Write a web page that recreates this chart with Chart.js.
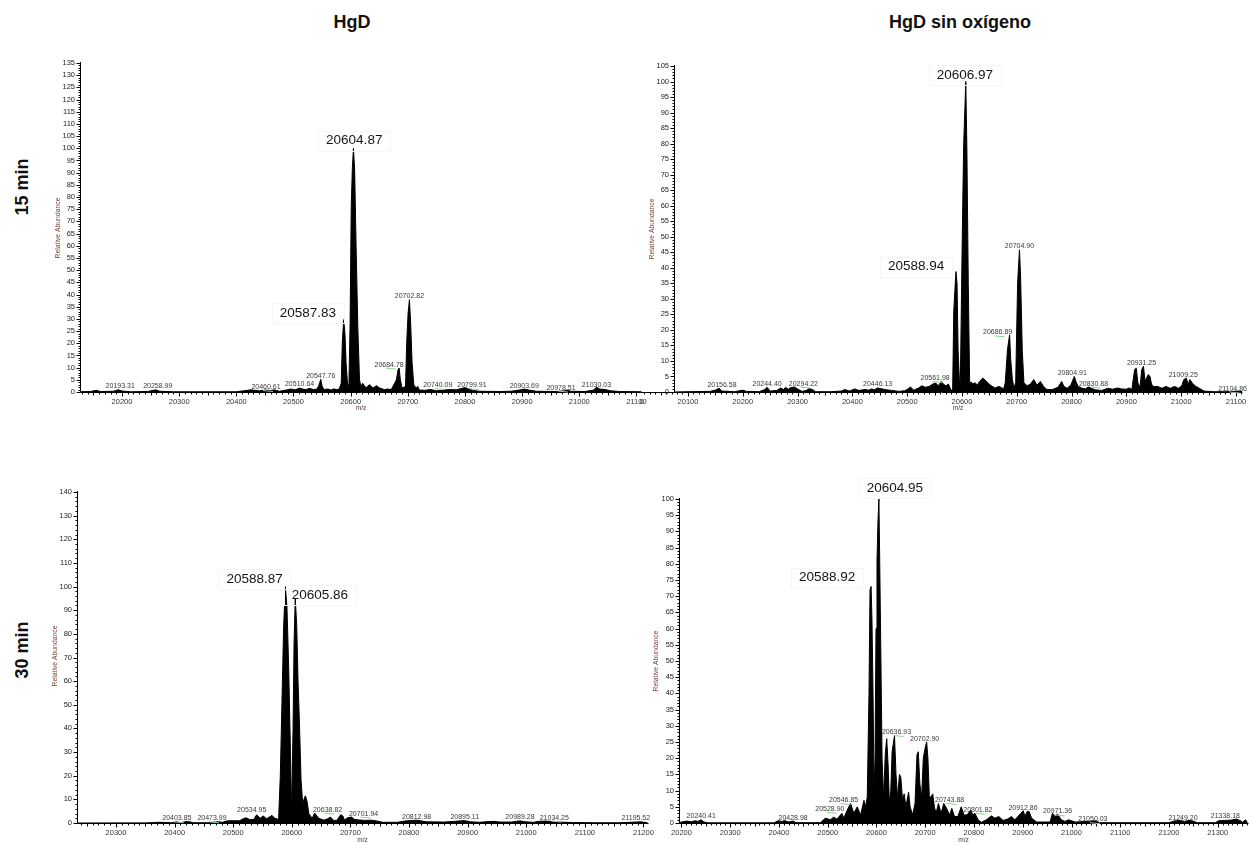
<!DOCTYPE html>
<html>
<head>
<meta charset="utf-8">
<script src="https://cdn.jsdelivr.net/npm/chart.js@4.4.1/dist/chart.umd.min.js"></script>
<style>
  html, body { margin: 0; padding: 0; background: #fff; }
  #wrap { position: relative; width: 1252px; height: 845px; overflow: hidden;
          font-family: "Liberation Sans", Arial, sans-serif; }
  canvas.panel { position: absolute; left: 0; top: 0; }
  .title { position: absolute; font-weight: bold; font-size: 18px; color: #111;
           white-space: nowrap; transform: translate(-50%, -50%); }
  .row { position: absolute; font-weight: bold; font-size: 18px; color: #111;
         white-space: nowrap; transform: translate(-50%, -50%) rotate(-90deg); }
</style>
</head>
<body>
<div id="wrap">
  <div class="title" style="left:352px;top:22px">HgD</div>
  <div class="title" style="left:960px;top:22px">HgD sin oxígeno</div>
  <div class="row" style="left:22px;top:187px">15 min</div>
  <div class="row" style="left:22px;top:650px">30 min</div>
  <canvas id="c1" class="panel" width="1252" height="845"></canvas>
  <canvas id="c2" class="panel" width="1252" height="845"></canvas>
  <canvas id="c3" class="panel" width="1252" height="845"></canvas>
  <canvas id="c4" class="panel" width="1252" height="845"></canvas>
</div>
<script>
// ---------- HgD, 15 min : deconvoluted profile (m/z, relative abundance) ----------
const p1Mz = [20126.5,20145,20155,20162,20185,20193.31,20200,20215,20245,20258.99,20266,20290,20400,20417,20425,20432,20440,20452,20460.61,20466,20475,20487,20495,20503,20510.64,20516,20522,20528,20535,20541,20544,20547.76,20550,20553,20560,20566,20570,20575,20580,20583.5,20585.5,20587.83,20590,20592,20595,20597,20599,20601,20603,20604.87,20607,20609.5,20612.5,20615.5,20618,20621,20624,20627,20633,20639,20645,20651,20659,20665,20671,20680,20683,20684.78,20687,20690,20696,20698,20700.5,20702.82,20705,20707.5,20710.5,20714.5,20717.5,20720,20730,20740.09,20750,20762,20775,20785,20799.91,20805,20815,20825,20860,20880,20895,20903.69,20912,20925,20960,20975,20978.51,20985,21010,21025,21030.03,21036,21045,21055,21070,21109];
const p1Ab = [0.1,0.2,0.7,0.2,0.3,0.9,0.4,0.1,0.2,0.9,0.3,0.1,0.1,0.6,0.9,0.7,0.5,0.8,0.6,0.9,0.3,0.8,1.2,0.9,1.6,1.2,1.0,1.5,1.0,1.2,2.5,5.2,2.5,1.0,1.2,0.8,1.3,1.0,1.2,3.6,21,29.7,24,12,1.6,3.6,28,76,92,100,91,60,27,5,2.2,3.6,2.5,1.8,3.0,1.6,2.6,1.6,1.0,1.2,1.0,5.0,9.2,9.8,5.0,1.6,2.3,20,32.4,37.9,28,12,2.9,1.6,2.3,0.8,0.7,1.0,0.5,0.8,1.0,0.9,1.8,1.3,0.6,0.3,0.2,0.3,0.8,1.2,0.8,0.3,0.2,0.5,0.8,0.3,0.2,0.8,2.0,1.2,1.0,0.5,0.2,0.1];
const p1Tags = [20193.31,20258.99,20460.61,20510.64,20547.76,20684.78,20702.82,20740.09,20799.91,20903.69,20978.51,21030.03];
const p1Main = [20604.87,20587.83];
const p1Linked = [20460.61,20684.78,20740.09,20799.91,20978.51];
const p1Ticks = ['20200','20300','20400','20500','20600','20700','20800','20900','21000','21100'];

// ---------- HgD sin oxígeno, 15 min ----------
const p2Mz = [20074,20100,20140,20150,20156.58,20162,20185,20200,20207,20230,20240,20244.40,20250,20262,20269,20274,20278,20283,20287,20294.22,20300,20308,20316,20321,20327,20333,20360,20380,20386,20395,20404,20412,20423,20430,20435,20440,20446.13,20454,20462,20472,20485,20495,20500,20506,20512,20520,20527,20533,20540,20546,20552,20557,20561.98,20567,20571,20575,20578,20580,20583,20585,20588.94,20591,20593,20595.5,20597,20600.5,20603,20606.97,20609,20611.5,20614,20617,20620,20624,20628,20632,20638,20645,20651,20660,20668,20676,20679,20683,20686.89,20689,20692,20695,20698,20701.5,20704.90,20707,20710,20713,20719,20725,20731,20737,20743,20749,20755,20765,20775,20782,20786,20792,20799,20804.91,20808,20812,20818,20825,20830.88,20836,20843,20855,20866,20875,20884,20891,20900,20905,20910,20915,20918,20921,20925,20928,20931.25,20934,20940,20943,20946,20950,20957,20965,20972,20980,20988,20995,21001,21005,21009.25,21013,21016,21021,21027,21033,21042,21060,21090,21104.86,21111];
const p2Ab = [0,0.1,0.2,0.6,1.2,0.3,0.1,0.6,0.2,0.1,0.8,1.5,0.3,0.5,1.3,0.8,1.5,0.9,1.4,1.6,1.0,0.2,0.5,1.1,0.8,0.1,0.1,0.3,0.8,0.3,1.0,0.5,0.8,0.6,1.0,0.7,1.3,1.0,0.7,0.5,0.2,0.4,0.8,1.6,0.6,1.2,2.0,1.5,1.8,2.5,2.9,2.0,3.4,2.4,2.0,2.6,1.5,0.4,1.0,26,38.8,35,13,3,3,49.5,79,100,78,35,3,3.2,2.6,3.0,2.2,3.4,4.5,3.4,2.3,1.3,1.8,1.0,3.0,13.6,18.4,10.4,4,1.3,3,35,45.8,37,13.6,3,2.0,2.6,4.0,2.2,3.4,1.8,0.8,0.8,1.5,3.4,1.8,1.2,2.3,5.0,3.4,1.8,1.3,1.0,1.6,1.2,0.7,0.5,1.2,0.9,1.3,1.0,0.9,1.3,0.8,7.2,7.7,3.0,1.5,7.2,8.3,3.5,5.6,5.0,2.5,1.7,1.8,1.2,1.8,1.2,1.8,1.2,2.0,4.0,4.5,2.5,4.0,2.7,1.8,1.2,0.3,0.1,0.1,0.3,0.1];
const p2Tags = [20156.58,20244.40,20294.22,20446.13,20561.98,20686.89,20704.90,20804.91,20830.88,20931.25,21009.25,21104.86];
const p2Main = [20606.97,20588.94];
const p2Linked = [20294.22,20561.98,20686.89,20830.88,21104.86];
const p2Ticks = ['20000','20100','20200','20300','20400','20500','20600','20700','20800','20900','21000','21100'];

// ---------- HgD, 30 min ----------
const p3Mz = [20233,20300,20350,20374,20385,20395,20403.85,20410,20420,20426,20432,20455,20473.99,20482,20488,20495,20503,20511,20517,20522,20528,20534.95,20540,20546,20551,20557,20566,20571,20577.4,20580.3,20583.1,20586,20588.87,20591.7,20594.6,20597.5,20599.5,20602,20603.8,20605.86,20608.3,20610.6,20612.9,20615.8,20618.6,20620.4,20623.2,20626.1,20629,20634.7,20638.82,20646,20654.7,20661,20666,20672,20677,20683.4,20687,20690,20695,20701.94,20707,20715,20725,20735,20746,20755,20780,20792,20800,20812.98,20820,20830,20860,20878,20888,20895.11,20905,20920,20935,20945,20955,20975,20983,20989.28,20998,21012,21022,21034.25,21044,21055,21080,21120,21160,21195.52,21207];
const p3Ab = [0,0.05,0.05,0.3,0.2,0.1,0.5,0.1,0.6,0.5,0.1,0.1,0.5,0.3,0.8,1.0,0.9,1.0,1.8,2.2,1.5,1.5,3.5,2.0,3.0,1.8,3.2,2.0,1.5,19.7,50.6,83,100,91.5,66,32,4,39,76,95,84,60,43,18,8,9.8,11.5,9,4,2,4.2,2,1.2,1.8,2.5,1.0,1.2,3.5,3.0,1.2,2.2,2.5,1.5,1.3,1.1,1.2,0.8,0.3,0.3,0.8,1.0,1.2,0.9,0.5,0.4,0.7,0.9,1.0,0.5,0.3,0.6,0.7,0.4,0.4,0.7,0.9,0.5,0.3,0.7,0.8,0.6,0.4,0.2,0.1,0.1,0.5,0.1];
const p3Tags = [20403.85,20473.99,20534.95,20638.82,20701.94,20812.98,20895.11,20989.28,21034.25,21195.52];
const p3Main = [20588.87,20605.86];
const p3Linked = [20403.85,20473.99,20638.82,20701.94,21034.25];
const p3Ticks = ['20300','20400','20500','20600','20700','20800','20900','21000','21100','21200'];

// ---------- HgD sin oxígeno, 30 min ----------
const p4Mz = [20194.9,20203,20212,20220,20228,20234,20240.41,20246,20255,20390,20398,20405,20412,20420,20428.98,20435,20485,20495.2,20505.5,20512,20519,20528.90,20533,20540,20546.85,20553.6,20560.5,20567.4,20574.3,20577.7,20581,20584.6,20586.7,20588.92,20590.8,20592.9,20595,20597,20599,20601,20603,20604.95,20606.6,20608.7,20611.4,20614.2,20618.3,20621,20623.8,20626.5,20629.3,20632,20636.93,20640,20643,20647.2,20650,20653.4,20656.8,20660.3,20665.8,20669,20674,20679,20683,20685.7,20689,20692.6,20696,20699.5,20702.90,20705.5,20708.4,20711.8,20715.3,20718.7,20722.2,20727,20732.5,20738,20743.88,20749.7,20754.5,20760,20766.9,20773.8,20779.3,20786,20793,20797.8,20801.82,20808.2,20815,20825.4,20835.7,20842.6,20850.8,20859.8,20868.7,20877,20883.8,20896.2,20901,20904.5,20908.6,20912.86,20918.2,20928.6,20956,20960.9,20966.4,20971.36,20978.8,20987,20993.9,21007.7,21035,21042,21050.03,21057,21200,21210,21222,21232,21241,21249.20,21258,21295,21302,21315,21328,21338.18,21348,21351,21356,21361];
const p4Ab = [0.1,0.4,0.6,0.4,0.7,0.5,1.0,0.3,0.05,0.05,0.7,0.5,0.7,0.3,0.6,0.1,0.1,1.5,1.0,1.8,1.2,3.0,1.5,4.0,6.0,3.0,5.0,2.5,7.0,5.0,8.0,40,72,73,62,40,10,20,60,81,93,100,81,55,20,8,22,26,18,6,10,22,27,15,8,15,14,7,9,5,9.5,5,2.5,6,21,22,12,8,20,23,25,20,8,8,9,5,3,6,3,6,4.5,2.5,4.5,2.0,2.0,5.0,2.5,2.5,4.0,2.5,3.0,1.0,0.2,1.0,2.2,1.5,2.0,0.8,1.2,2.0,1.0,3.0,3.8,2.0,3.5,3.6,1.5,0.3,0.3,3.0,2.0,2.8,1.0,0.5,1.0,0.3,0.5,0.6,0.7,0.1,0.1,0.6,0.8,0.5,0.8,0.6,0.1,0.1,0.7,0.8,0.9,1.2,0.6,0.2,1.0,0.3];
const p4Tags = [20240.41,20428.98,20528.90,20546.85,20636.93,20702.90,20743.88,20801.82,20912.86,20971.36,21050.03,21249.20,21338.18];
const p4Main = [20604.95,20588.92];
const p4Linked = [20528.90,20546.85,20636.93,20743.88,20801.82,20971.36,21050.03];
const p4Ticks = ['20200','20300','20400','20500','20600','20700','20800','20900','21000','21100','21200','21300'];

// ---------- page layout of the four panels ----------
const W = 1252, H = 845;
const FONT = '"Liberation Sans", Arial, sans-serif';

const panels = [
  { canvas: 'c1', mz: p1Mz, ab: p1Ab, tags: p1Tags, main: p1Main, linked: p1Linked, ticks: p1Ticks,
    box: { left: 80, top: 63, right: 642, bottom: 392 }, xMin: 20126.5, xMax: 21109.7,
    yMax: 135, yMajor: 5, yMinor: 1, xLineFrom: null, yTitle: [58, 228], xTitleY: 408,
    nudge: { 20193.31: [2, 0], 20258.99: [2, 0], 20460.61: [-5, 0], 20510.64: [0, -1], 20684.78: [-10, 0],
             20740.09: [7, -1], 20799.91: [7, 1], 20978.51: [-6, 1], 21030.03: [0, 1] },
    mainPlace: { 20604.87: ['center', 0.8, -7.6], 20587.83: ['right', -7.7, -6.3] } },
  { canvas: 'c2', mz: p2Mz, ab: p2Ab, tags: p2Tags, main: p2Main, linked: p2Linked, ticks: p2Ticks,
    box: { left: 674, top: 66, right: 1242, bottom: 392 }, xMin: 20074.5, xMax: 21111,
    yMax: 105, yMajor: 5, yMinor: 1, xLineFrom: 20012.4, yTitle: [652, 229], xTitleY: 408,
    nudge: { 20156.58: [3, 0], 20294.22: [9, 0], 20561.98: [-6, 0], 20686.89: [-12, 1], 20804.91: [-2, 0],
             20830.88: [5, 0], 20931.25: [-2, 0], 21009.25: [-3, 0], 21104.86: [-6, 1] },
    mainPlace: { 20606.97: ['center', -1, -6.5], 20588.94: ['right', -11.6, -4.8] } },
  { canvas: 'c3', mz: p3Mz, ab: p3Ab, tags: p3Tags, main: p3Main, linked: p3Linked, ticks: p3Ticks,
    box: { left: 77, top: 492, right: 648, bottom: 823 }, xMin: 20233.4, xMax: 21207.8,
    yMax: 140, yMajor: 10, yMinor: 2, xLineFrom: null, yTitle: [55, 656], xTitleY: 840,
    nudge: { 20473.99: [-6, 0], 20534.95: [-2, -6], 20638.82: [13, 0], 20701.94: [12, 0],
             21034.25: [8, 0], 21195.52: [-5, 0] },
    mainPlace: { 20588.87: ['right', -2.6, -7.6], 20605.86: ['left', -3.5, -3.4] } },
  { canvas: 'c4', mz: p4Mz, ab: p4Ab, tags: p4Tags, main: p4Main, linked: p4Linked, ticks: p4Ticks,
    box: { left: 679, top: 499, right: 1248, bottom: 823 }, xMin: 20194.9, xMax: 21362,
    yMax: 100, yMajor: 5, yMinor: 1, xLineFrom: null, yTitle: [656, 661], xTitleY: 840,
    nudge: { 20528.9: [-12, -1], 20546.85: [-7, 0], 20636.93: [2, 0], 20702.9: [-2, 0], 20743.88: [3, -5],
             20801.82: [3, 0], 20912.86: [-6, 0], 20971.36: [0, 1], 21050.03: [-3, 2],
             21249.2: [-10, 0], 21338.18: [-11, 0] },
    mainPlace: { 20604.95: ['left', -12.2, -10.7], 20588.92: ['right', -15.8, -8.8] } }
];

// axes in the instrument-software style: outward major/minor ticks, small labels
function axesPlugin(p) {
  return {
    id: 'msAxes',
    afterDatasetsDraw(chart) {
      const { ctx, chartArea: a, scales: { x, y } } = chart;
      const ax = Math.round(a.left) + 0.5;
      const ay = Math.round(a.bottom) + 0.5;
      const lineFrom = p.xLineFrom !== null ? p.xLineFrom : p.xMin;
      const xStartPx = Math.round(x.getPixelForValue(lineFrom)) + 0.5;
      ctx.save();
      ctx.strokeStyle = '#000';
      ctx.lineWidth = 1;
      ctx.beginPath();
      ctx.moveTo(ax, Math.round(a.top) - 1);
      ctx.lineTo(ax, ay);
      ctx.moveTo(xStartPx, ay);
      ctx.lineTo(Math.round(a.right) + 0.5, ay);
      // y ticks
      const nY = Math.round(p.yMax / p.yMinor);
      for (let k = 0; k <= nY; k++) {
        const v = k * p.yMinor;
        const py = Math.round(y.getPixelForValue(v)) + 0.5;
        const major = Math.round(v) % p.yMajor === 0;
        ctx.moveTo(ax - (major ? 4 : 2), py);
        ctx.lineTo(ax, py);
      }
      // x ticks every 10, longer on 50 and 100
      for (let v = Math.ceil(lineFrom / 10) * 10; v <= p.xMax; v += 10) {
        const px = Math.round(x.getPixelForValue(v)) + 0.5;
        const len = v % 100 === 0 ? 4 : (v % 50 === 0 ? 3 : 2);
        ctx.moveTo(px, ay);
        ctx.lineTo(px, ay + len);
      }
      ctx.stroke();

      // y tick labels
      ctx.font = '7.5px ' + FONT;
      ctx.fillStyle = '#222';
      ctx.textAlign = 'right';
      ctx.textBaseline = 'middle';
      for (let v = 0; v <= p.yMax; v += p.yMajor) {
        ctx.fillText(String(v), ax - 5.5, y.getPixelForValue(v));
      }
      // x tick labels; an axis that runs on past the y axis is cut at its own start
      ctx.save();
      if (p.xLineFrom !== null) {
        ctx.beginPath();
        ctx.rect(xStartPx - 0.5, 0, W, H);
        ctx.clip();
      }
      ctx.fillStyle = '#3b3632';
      ctx.textAlign = 'center';
      p.ticks.forEach(t => {
        ctx.fillText(t, x.getPixelForValue(Number(t)), ay + 9.5);
      });
      ctx.restore();

      // axis titles
      ctx.fillStyle = '#7a4334';
      ctx.font = '6.8px ' + FONT;
      ctx.save();
      ctx.translate(p.yTitle[0], p.yTitle[1]);
      ctx.rotate(-Math.PI / 2);
      ctx.textAlign = 'center';
      ctx.fillText('Relative Abundance', 0, 0);
      ctx.restore();
      ctx.fillStyle = '#4a3a33';
      ctx.font = '6.5px ' + FONT;
      ctx.textAlign = 'center';
      ctx.fillText('m/z', (a.left + a.right) / 2, p.xTitleY);
      ctx.restore();
    }
  };
}

// peak annotations: small m/z tags and the two large main-peak labels
function tagPlugin(p) {
  const abundanceAt = m => p.ab[p.mz.indexOf(m)];
  return {
    id: 'peakTags',
    afterDatasetsDraw(chart) {
      const { ctx, scales: { x, y } } = chart;
      ctx.save();
      ctx.font = '7px ' + FONT;
      ctx.textAlign = 'center';
      ctx.textBaseline = 'alphabetic';
      p.tags.forEach(m => {
        const [dx, dy] = p.nudge[m] || [0, 0];
        const cx = x.getPixelForValue(m) + dx;
        const by = y.getPixelForValue(abundanceAt(m)) - 1.5 + dy;
        ctx.fillStyle = '#3a3a3a';
        ctx.fillText(m.toFixed(2), cx, by);
        if (p.linked.includes(m)) {
          ctx.strokeStyle = '#8fd18f';
          ctx.lineWidth = 1;
          ctx.beginPath();
          ctx.moveTo(cx - 3, by + 1.5);
          ctx.lineTo(cx + 7, by + 2.5);
          ctx.stroke();
        }
      });

      ctx.font = '13.5px ' + FONT;
      ctx.textBaseline = 'middle';
      p.main.forEach(m => {
        const [align, dx, dy] = p.mainPlace[m];
        const px = x.getPixelForValue(m) + dx;
        const py = y.getPixelForValue(abundanceAt(m)) + dy;
        const text = m.toFixed(2);
        const w = ctx.measureText(text).width;
        const left = align === 'center' ? px - w / 2 : (align === 'right' ? px - w : px);
        ctx.strokeStyle = '#f6f6f6';
        ctx.lineWidth = 1;
        ctx.strokeRect(Math.round(left - 8) + 0.5, Math.round(py - 10) + 0.5, Math.round(w + 16), 20);
        ctx.fillStyle = '#151515';
        ctx.textAlign = align;
        ctx.fillText(text, px, py);
      });
      ctx.restore();
    }
  };
}

panels.forEach(p => {
  const points = p.mz.map((m, i) => ({ x: m, y: p.ab[i] }));
  new Chart(document.getElementById(p.canvas), {
    type: 'line',
    data: {
      datasets: [{
        data: points,
        borderColor: '#000',
        backgroundColor: '#000',
        borderWidth: 1,
        fill: 'origin',
        pointRadius: 0,
        tension: 0
      }]
    },
    options: {
      responsive: false,
      animation: false,
      events: [],
      layout: { padding: { left: p.box.left, top: p.box.top, right: W - p.box.right, bottom: H - p.box.bottom } },
      plugins: { legend: { display: false }, tooltip: { enabled: false } },
      scales: {
        x: { type: 'linear', min: p.xMin, max: p.xMax, display: false },
        y: { type: 'linear', min: 0, max: p.yMax, display: false }
      }
    },
    plugins: [axesPlugin(p), tagPlugin(p)]
  });
});
</script>
</body>
</html>
